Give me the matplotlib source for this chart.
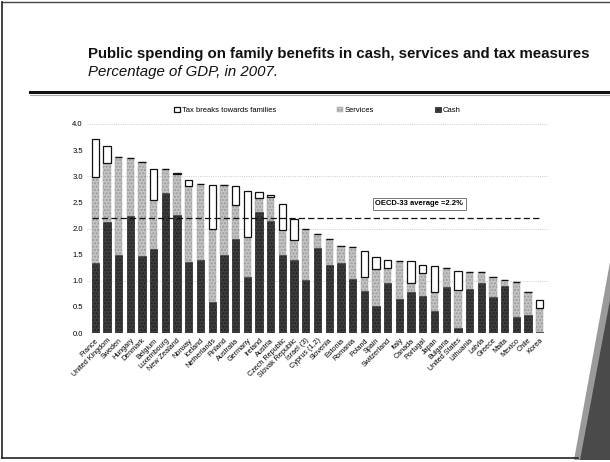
import matplotlib
matplotlib.use('Agg')
import matplotlib.pyplot as plt
from matplotlib.patches import Polygon
import numpy as np

plt.rcParams['font.family'] = ['Liberation Sans', 'DejaVu Sans']

# Datos (% del PIB, 2007)
countries = ['France', 'United Kingdom', 'Sweden', 'Hungary', 'Denmark', 'Belgium',
             'Luxembourg', 'New Zealand', 'Norway', 'Iceland', 'Netherlands', 'Finland',
             'Australia', 'Germany', 'Ireland', 'Austria', 'Czech Republic',
             'Slovak Republic', 'Israel (3)', 'Cyprus (1,2)', 'Slovenia', 'Estonia',
             'Romania', 'Poland', 'Spain', 'Switzerland', 'Italy', 'Canada', 'Portugal',
             'Japan', 'Bulgaria', 'United States', 'Lithuania', 'Latvia', 'Greece',
             'Malta', 'Mexico', 'Chile', 'Korea']
cash = [1.34, 2.13, 1.50, 2.23, 1.48, 1.61, 2.67, 2.26, 1.35, 1.39, 0.59, 1.49,
        1.79, 1.07, 2.32, 2.14, 1.49, 1.39, 1.01, 1.63, 1.30, 1.34, 1.03, 0.80,
        0.52, 0.95, 0.65, 0.79, 0.70, 0.42, 0.88, 0.10, 0.84, 0.96, 0.69, 0.90,
        0.31, 0.35, 0.02]
services = [1.65, 1.12, 1.86, 1.11, 1.80, 0.94, 0.47, 0.78, 1.46, 1.47, 1.40, 1.34,
            0.66, 0.76, 0.27, 0.46, 0.49, 0.39, 0.98, 0.26, 0.50, 0.32, 0.62, 0.27,
            0.70, 0.30, 0.73, 0.16, 0.44, 0.37, 0.37, 0.72, 0.33, 0.20, 0.38, 0.11,
            0.67, 0.44, 0.46]
tax = [0.72, 0.33, 0.0, 0.0, 0.0, 0.59, 0.0, 0.03, 0.12, 0.0, 0.85, 0.0,
       0.36, 0.89, 0.11, 0.05, 0.48, 0.41, 0.0, 0.0, 0.0, 0.0, 0.0, 0.50,
       0.24, 0.14, 0.0, 0.43, 0.17, 0.49, 0.0, 0.36, 0.0, 0.0, 0.0, 0.0,
       0.0, 0.0, 0.16]
oecd_avg = 2.2

W, H = 610, 462
fig = plt.figure(figsize=(W / 100, H / 100), dpi=100)
fig.patch.set_facecolor('white')

def fx(x):
    return x / W

def fy(y):
    return 1 - y / H

def linea(x0, y0, x1, y1, **kw):
    fig.add_artist(plt.Line2D([fx(x0), fx(x1)], [fy(y0), fy(y1)],
                              transform=fig.transFigure, **kw))

# marco de la diapositiva (sin borde derecho)
linea(2, 2, 610, 2, color='#444444', lw=1.0)
linea(2, 2, 2, 458, color='#222222', lw=1.2)
linea(2, 458, 578, 458, color='#222222', lw=1.2)
# esquina doblada
fig.add_artist(Polygon([(fx(574), fy(460)), (fx(610), fy(262)), (fx(610), fy(460))],
                       closed=True, transform=fig.transFigure, fc='#9a9a9a', ec='none'))
fig.add_artist(Polygon([(fx(580), fy(460)), (fx(610), fy(300)), (fx(610), fy(460))],
                       closed=True, transform=fig.transFigure, fc='#4a4a4a', ec='none'))

# título
fig.text(fx(88), fy(54), 'Public spending on family benefits in cash, services and tax measures',
         fontsize=10.8, fontweight='bold', color='#111111', va='center', ha='left')
fig.text(fx(88), fy(72), 'Percentage of GDP, in 2007.', fontsize=10.8, style='italic',
         color='#111111', va='center', ha='left')
linea(30, 92, 610, 92, color='#111111', lw=2.2)
linea(30, 94.5, 610, 94.5, color='#aaaaaa', lw=0.8)

ax = fig.add_axes([fx(87), fy(333), fx(548) - fx(87), fy(124) - fy(333)])
x = np.arange(len(countries))
c = np.array(cash)
s = np.array(services)
t = np.array(tax)

b_cash = ax.bar(x, c, 0.62, color='#3d3d3d', edgecolor='#222222', lw=0.5,
                hatch='.....', label='Cash', zorder=3)
b_serv = ax.bar(x, s, 0.62, bottom=c, color='#c4c4c4', edgecolor='#9a9a9a', lw=0.3,
                hatch='.....', label='Services', zorder=3)
b_tax = ax.bar(x, t, 0.62, bottom=c + s, color='white', edgecolor='#111111', lw=0.9,
               label='Tax breaks towards families', zorder=3)

ax.axhline(oecd_avg, xmin=0.01, xmax=0.985, color='#111111', ls=(0, (5, 2.5)), lw=0.9, zorder=4)
ax.text(23.95, 2.47, 'OECD-33 average =2.2%', fontsize=5.5, fontweight='bold',
        va='center', ha='left', zorder=5,
        bbox=dict(boxstyle='square,pad=0.35', fc='white', ec='#777777', lw=0.7))

ax.set_xlim(-0.7, len(countries) - 0.3)
ax.set_ylim(0, 4.0)
ax.set_yticks(np.arange(0, 4.01, 0.5))
ax.set_yticklabels([f'{v:.1f}' for v in np.arange(0, 4.01, 0.5)], fontsize=5.5)
ax.set_xticks(x)
ax.set_xticklabels(countries, rotation=45, ha='right', rotation_mode='anchor', fontsize=5.2)
ax.tick_params(length=0, pad=3)
ax.yaxis.grid(True, color='#bbbbbb', ls=':', lw=0.6)
for v in [0.5, 1.5, 2.5, 3.5]:
    ax.yaxis.get_gridlines()[int(v * 2)].set_visible(False)
ax.set_axisbelow(True)
for sp in ax.spines.values():
    sp.set_visible(False)

leg = ax.legend(handles=[b_tax, b_serv, b_cash], ncol=3, loc='center',
                bbox_to_anchor=(0.5, 1.065), frameon=False, fontsize=5.5,
                handlelength=0.8, handleheight=0.8, handletextpad=0.2, columnspacing=8)

fig.savefig('out.png', dpi=100)
